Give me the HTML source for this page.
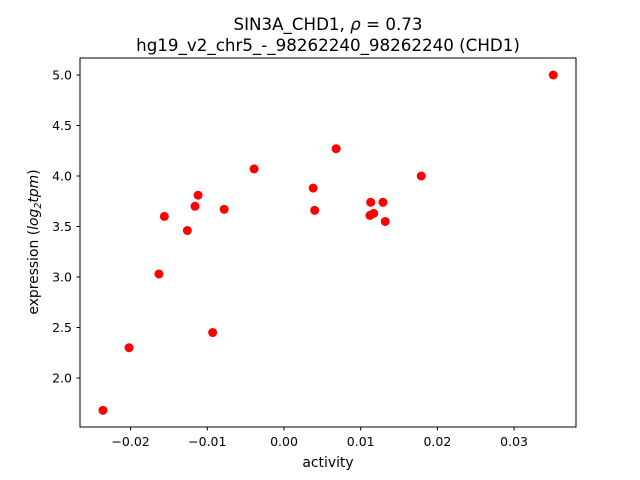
<!DOCTYPE html>
<html><head><meta charset="utf-8"><style>
html,body{margin:0;padding:0;background:#fff;}
svg{display:block;font-family:"DejaVu Sans","Liberation Sans",sans-serif;}
</style></head><body>
<svg id="chart" width="640" height="480" viewBox="0 0 640 480">
<rect width="640" height="480" fill="#fff"/>
<text x="328" y="30" font-size="16.7" text-anchor="middle">SIN3A_CHD1, <tspan font-style="italic">ρ</tspan> = 0.73</text>
<text x="328" y="51" font-size="16.7" text-anchor="middle">hg19_v2_chr5_-_98262240_98262240 (CHD1)</text>
<g id="marks"></g>
<rect x="80" y="58" width="496" height="369" fill="none" stroke="#000" stroke-width="1"/>
<g id="xticks"></g><g id="yticks"></g>
<text x="328" y="467" font-size="13.9" text-anchor="middle">activity</text>
<text transform="translate(38,242) rotate(-90)" font-size="13.9" text-anchor="middle">expression (<tspan font-style="italic">log</tspan><tspan font-size="9.5" dy="3" font-style="italic">2</tspan><tspan dy="-3" font-style="italic">tpm</tspan>)</text>
</svg>
<script>
const xValues=[-0.0236,-0.0202,-0.0163,-0.0156,-0.0126,-0.0116,-0.0112,-0.0093,-0.0078,-0.0039,0.0038,0.0040,0.0068,0.0113,0.0112,0.0117,0.0129,0.0132,0.0179,0.0351];
const yValues=[1.68,2.30,3.03,3.60,3.46,3.70,3.81,2.45,3.67,4.07,3.88,3.66,4.27,3.74,3.61,3.63,3.74,3.55,4.00,5.00];
const xTicks=[-0.02,-0.01,0.00,0.01,0.02,0.03];
const xTickLabels=["−0.02","−0.01","0.00","0.01","0.02","0.03"];
const yTicks=[2.0,2.5,3.0,3.5,4.0,4.5,5.0];
const yTickLabels=["2.0","2.5","3.0","3.5","4.0","4.5","5.0"];
const NS="http://www.w3.org/2000/svg";
function xs(v){return 284+v*7670;}
function ys(v){return 378-(v-2)*101;}
const marks=document.getElementById('marks');
xValues.forEach((x,i)=>{
 const c=document.createElementNS(NS,'circle');
 c.setAttribute('cx',xs(x));c.setAttribute('cy',ys(yValues[i]));c.setAttribute('r',4.5);c.setAttribute('fill','#ff0000');
 
 
 marks.appendChild(c);
});
const xg=document.getElementById('xticks');
xTicks.forEach((t,i)=>{
 const l=document.createElementNS(NS,'line');
 l.setAttribute('x1',xs(t));l.setAttribute('x2',xs(t));l.setAttribute('y1',427);l.setAttribute('y2',430.5);l.setAttribute('stroke','#000');
 
 
 xg.appendChild(l);
 const tx=document.createElementNS(NS,'text');
 tx.setAttribute('x',xs(t));tx.setAttribute('y',446);tx.setAttribute('font-size','12.5');tx.setAttribute('text-anchor','middle');
 tx.textContent=xTickLabels[i];
 
 
 xg.appendChild(tx);
});
const yg=document.getElementById('yticks');
yTicks.forEach((t,i)=>{
 const l=document.createElementNS(NS,'line');
 l.setAttribute('x1',76.5);l.setAttribute('x2',80);l.setAttribute('y1',ys(t));l.setAttribute('y2',ys(t));l.setAttribute('stroke','#000');
 
 
 yg.appendChild(l);
 const tx=document.createElementNS(NS,'text');
 tx.setAttribute('x',72);tx.setAttribute('y',ys(t)+4.5);tx.setAttribute('font-size','12.5');tx.setAttribute('text-anchor','end');
 tx.textContent=yTickLabels[i];
 
 
 yg.appendChild(tx);
});
</script>
</body></html>
